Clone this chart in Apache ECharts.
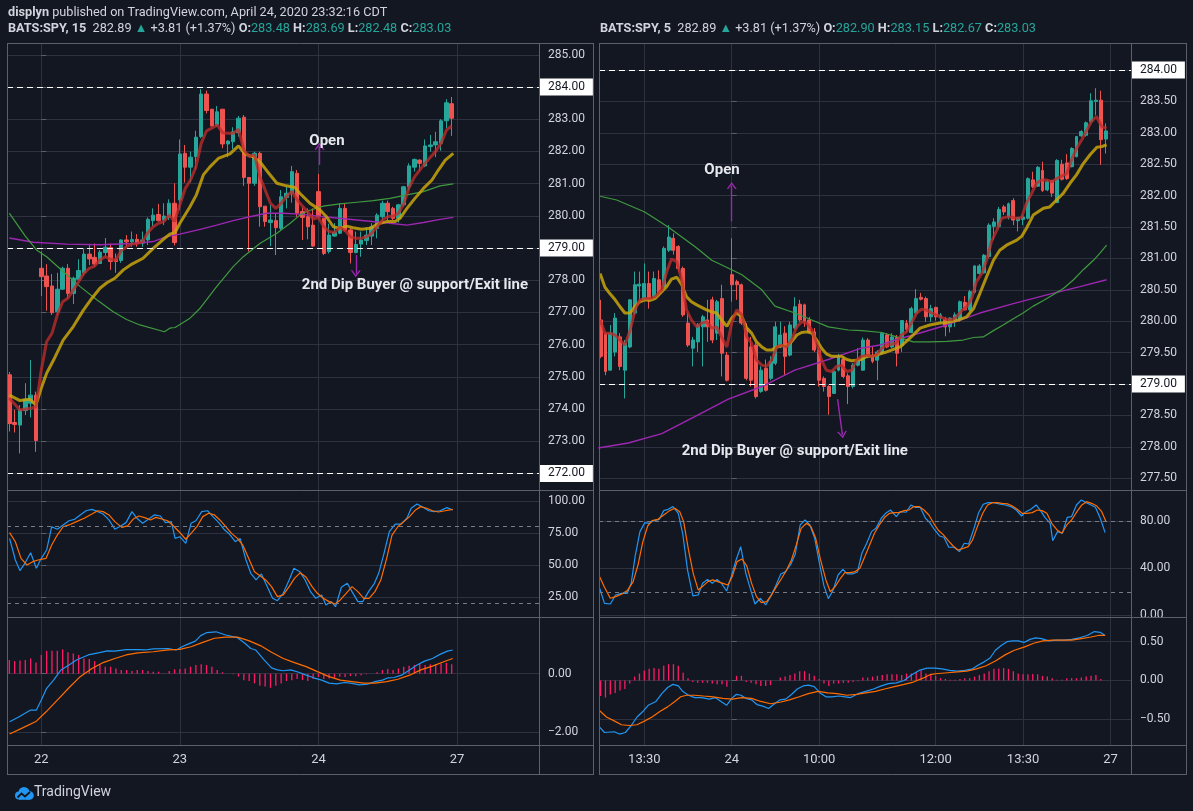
<!DOCTYPE html>
<html><head><meta charset="utf-8">
<script src="https://cdn.jsdelivr.net/npm/echarts@6/dist/echarts.min.js"></script>
<style>html,body{margin:0;padding:0;background:#131722;}#c{width:1193px;height:811px;}</style>
</head><body><div id="c"></div>
<script>
// ---------------- DATA ----------------
// Left chart: 15 min bars, index 0 = first bar of Apr 22
const L_FIRST = -6;
// [open, close, low, high]
const L_OHLC = [
[275.06,273.55,273.30,275.15],[273.58,273.52,273.27,273.97],[273.50,273.97,272.62,274.12],[273.95,274.30,273.81,274.80],
[274.18,274.43,273.74,275.52],[274.43,273.02,272.67,274.54],
[278.37,278.11,277.51,278.89],[278.13,277.80,277.05,278.50],[277.82,276.99,276.92,278.19],[277.02,277.72,276.92,278.23],
[277.72,278.37,277.70,278.42],[278.37,277.59,277.44,278.50],[277.59,278.06,277.26,278.11],[278.03,278.30,278.01,278.65],
[278.23,278.81,278.16,278.99],[278.81,278.66,278.47,279.09],[278.71,278.50,278.42,279.14],[278.52,278.87,278.50,278.94],
[278.86,279.02,278.73,279.31],[279.01,278.58,278.32,279.14],[278.65,278.58,278.23,278.83],[278.61,279.25,278.54,279.27],
[279.25,279.19,279.04,279.40],[279.19,279.26,279.04,279.51],[279.27,279.15,279.04,279.43],[279.15,279.25,279.04,279.51],
[279.25,279.89,279.09,279.95],[279.85,280.02,279.68,280.23],[280.04,279.85,279.82,280.37],[279.87,279.99,279.71,280.39],
[279.95,280.39,279.87,280.51],[280.39,279.17,279.08,281.01],
[280.49,281.92,280.18,282.37],[281.94,281.51,281.03,282.20],[281.51,281.82,281.03,281.99],[281.84,282.44,281.44,282.64],
[282.46,283.78,282.41,283.93],[283.78,283.27,283.18,283.89],[283.31,282.79,282.77,283.31],[282.82,283.23,282.77,283.41],
[283.31,282.23,282.10,283.31],[282.23,282.32,281.82,282.35],[282.30,282.61,282.07,282.75],[282.58,283.03,282.46,283.10],
[283.06,281.19,280.93,283.13],[281.19,281.01,278.89,281.19],[281.01,281.94,280.93,281.99],[281.94,280.28,279.66,281.99],
[280.30,279.82,279.66,280.30],[279.79,279.87,279.06,280.34],[279.85,279.63,278.78,280.08],[279.61,280.59,279.56,280.80],
[280.57,280.70,280.23,280.90],[280.70,281.37,280.41,281.55],[281.32,280.08,279.97,281.42],[280.13,279.95,279.25,280.26],
[279.97,279.66,279.27,280.23],[279.71,279.06,279.04,280.23],
[280.75,279.97,279.95,281.30],[279.92,278.83,278.78,279.92],[278.89,279.40,278.83,279.75],[279.37,279.48,279.35,279.77],
[279.46,280.23,279.43,280.39],[280.23,279.56,279.51,280.37],[279.56,278.86,278.52,279.61],[278.86,279.11,278.83,279.51],
[279.12,279.25,278.73,279.51],[279.23,279.40,279.09,279.64],[279.37,279.66,279.09,279.77],[279.61,280.02,279.30,280.08],
[279.97,280.39,279.82,280.47],[280.39,280.13,279.87,280.47],[280.23,279.92,279.87,280.28],[279.92,280.34,279.79,280.37],
[280.34,280.90,280.28,280.93],[280.90,281.55,280.80,281.63],[281.51,281.75,281.37,281.78],[281.73,281.63,281.40,281.75],
[281.55,282.17,281.51,282.37],[282.15,282.20,281.99,282.51],[282.20,282.30,281.82,282.61],[282.25,282.95,282.02,283.00],
[282.95,283.51,282.72,283.62],[283.48,283.03,282.48,283.69]
];
// moving averages [barIndex, price]
const L_MA_FAST = [[-6,274.33],[-4,273.97],[-2,274.02],[-1,274.07],[0,275.21],[1,276.09],[2,276.35],[3,276.92],[4,277.33],[5,277.44],[6,277.70],[7,277.95],[8,278.21],[9,278.37],[10,278.44],[11,278.63],[12,278.73],[13,278.65],[14,278.63],[15,278.92],[16,279.04],[17,279.12],[18,279.14],[19,279.20],[20,279.48],[21,279.66],[22,279.77],[23,279.82],[24,280.02],[25,279.82],[26,280.34],[27,280.85],[28,281.11],[29,281.51],[30,282.25],[31,282.64],[32,282.72],[33,282.82],[34,282.58],[35,282.56],[36,282.56],[37,282.69],[38,282.04],[39,281.84],[40,281.89],[41,281.22],[42,280.80],[43,280.39],[44,280.23],[45,280.39],[46,280.60],[47,280.75],[48,280.50],[49,280.30],[50,280.12],[51,279.90],[52,279.95],[53,279.66],[54,279.51],[55,279.48],[56,279.64],[57,279.54],[58,279.35],[59,279.30],[60,279.30],[61,279.35],[62,279.46],[63,279.66],[64,279.87],[65,279.97],[66,279.99],[67,280.08],[68,280.37],[69,280.88],[70,281.20],[71,281.42],[72,281.63],[73,281.82],[74,282.00],[75,282.25],[76,282.66],[77,282.79]];
const L_MA_MID = [[-6,274.43],[-4,274.26],[-2.1,274.30],[-1,274.12],[0,274.65],[1,275.11],[2.3,275.52],[4.1,276.14],[6,276.56],[7.9,277.07],[9.5,277.44],[11,277.75],[12.3,277.92],[13.8,278.06],[15.4,278.32],[17,278.50],[19.1,278.68],[21,278.99],[22.9,279.27],[24.1,279.43],[25.1,279.48],[26,279.77],[27.9,280.28],[29.1,280.65],[30.4,281.27],[31.6,281.51],[33.2,281.78],[35.4,281.92],[37,282.17],[38.2,281.92],[39.8,281.82],[41,281.68],[42.3,281.40],[44.2,281.01],[46,280.93],[47.6,280.88],[48.5,280.70],[50.4,280.39],[52.3,280.18],[53.5,279.97],[54.8,279.66],[56,279.61],[57.3,279.68],[58.5,279.63],[60.1,279.58],[61.7,279.61],[63.2,279.75],[64.8,279.82],[66.4,279.82],[67.3,279.92],[68.6,280.23],[70.1,280.54],[71.7,280.85],[73.3,281.11],[74.5,281.42],[75.8,281.73],[77.3,281.94]];
const L_MA_SLOW = [[-6,280.08],[-3,279.37],[-0.9,278.94],[1,278.73],[4.1,278.27],[7.3,277.80],[10.4,277.39],[13.5,277.02],[16,276.78],[18.5,276.61],[23.1,276.40],[24.1,276.51],[25.1,276.53],[27.9,276.82],[29.8,277.13],[32.9,277.80],[36,278.42],[37.9,278.73],[41,279.14],[44.2,279.46],[46.7,279.77],[48.5,280.02],[50,280.15],[52.9,280.30],[56,280.37],[59.2,280.42],[62.3,280.47],[65.4,280.54],[68.6,280.65],[71.7,280.75],[74.8,280.93],[77.3,280.99]];
const L_MA_LONG = [[-6,279.31],[-1.5,279.18],[4.8,279.12],[11,279.10],[17.3,279.14],[21,279.20],[23.5,279.35],[26,279.43],[29.8,279.58],[32.9,279.71],[36,279.85],[39.1,279.97],[42.3,280.08],[45.4,280.08],[48.5,280.05],[52.9,279.97],[59.2,279.87],[65.4,279.77],[68.6,279.71],[71.7,279.79],[74.8,279.89],[77.3,279.95]];
const L_STOCH_K = [[-5.95,70.8],[-4.87,53.9],[-4.01,45.6],[-3.08,51.3],[-2,59.6],[-0.93,47.4],[0,55.2],[1,61.7],[1.95,79.9],[3,77.9],[4.1,81.3],[5.2,84.6],[6.25,85.7],[7.3,89.1],[8.4,92.4],[9.5,93.5],[10.6,91.7],[11.6,89.8],[12.7,85.2],[13.8,77.9],[14.9,80.5],[15.9,83.1],[17,91.7],[17.95,86.5],[19,82.6],[20.1,85.7],[21.2,89.1],[22.3,88.3],[23.3,83.1],[24.4,83.9],[25.1,70.8],[26,72.1],[27.1,66.9],[28.1,82.6],[29,84.6],[30.1,91.7],[31.2,92.4],[32.2,87.8],[33.3,83.1],[34.4,77.3],[35.3,74.2],[36.4,68.2],[37.3,70.8],[38.4,53.9],[39.3,43.5],[40.3,38.3],[41.3,43.0],[42.4,33.1],[43.4,24.0],[44.3,22.1],[45.4,27.9],[46.5,38.3],[47.4,47.4],[48.5,44.8],[49.5,38.3],[50.5,29.2],[51.5,24.0],[52.6,26.6],[53.4,18.8],[54.4,21.4],[55.2,17.4],[56.3,32.6],[57.4,35.7],[58.3,29.2],[59.4,21.4],[60.3,21.4],[61.4,29.2],[62.5,35.7],[63.3,43.5],[64.3,59.1],[65.3,76.0],[66.4,82.0],[67.5,82.0],[68.6,86.5],[69.4,94.3],[70.5,97.7],[71.6,95.1],[72.7,92.4],[73.7,91.7],[74.8,92.4],[76.1,94.8],[77.2,93.0]];
const L_STOCH_D = [[-5.95,75.3],[-4.87,68.2],[-3.8,55.2],[-2.7,50.0],[-1.6,52.6],[-0.6,53.9],[0.9,55.2],[1.95,65.6],[3,73.4],[4.1,79.9],[5.2,81.3],[6.6,83.9],[8.05,86.5],[9.5,89.8],[10.6,92.4],[11.6,91.7],[12.7,89.1],[13.8,83.9],[15.1,79.4],[16.2,80.5],[17.2,85.7],[18.3,88.3],[19.4,87.0],[20.5,85.2],[21.5,87.2],[22.6,85.9],[23.7,84.6],[24.8,80.5],[25.85,76.0],[27.1,70.1],[28.1,74.7],[29.2,79.9],[30.3,87.8],[31.4,90.4],[32.5,89.1],[33.5,85.2],[34.6,79.9],[35.7,74.7],[36.8,70.8],[37.8,65.6],[38.9,55.2],[40,44.8],[41.1,41.4],[42.1,38.3],[43.2,33.1],[44.3,25.3],[45.4,26.6],[46.5,33.1],[47.5,39.6],[48.6,44.0],[49.7,40.4],[50.8,33.1],[51.8,27.9],[52.9,24.0],[54,21.4],[55.1,19.5],[56.1,22.7],[57.2,27.9],[58.3,33.1],[59.4,29.2],[60.5,24.0],[61.5,24.0],[62.6,29.2],[63.7,38.3],[64.8,55.2],[65.8,73.4],[66.9,79.9],[68,83.9],[69.1,87.8],[70.2,93.0],[71.2,95.6],[72.3,94.3],[73.4,92.4],[74.5,91.4],[75.5,92.2],[77.2,93.5]];
const L_MACD = [[-5.95,-1.64],[-4.15,-1.47],[-2,-1.24],[-0.92,-1.24],[0,-0.90],[1,-0.50],[2.3,-0.22],[3.7,0.13],[5.2,0.30],[6.6,0.47],[8.8,0.64],[10.9,0.72],[12.4,0.78],[13.8,0.77],[15.9,0.82],[18.1,0.82],[19.5,0.81],[21,0.85],[23.8,0.86],[25.3,0.81],[26.4,0.92],[27.4,1.00],[28.9,1.11],[29.9,1.30],[31,1.40],[32.8,1.43],[34.6,1.32],[36.8,1.23],[38.2,1.04],[39.3,0.86],[40.2,0.81],[41.8,0.47],[43.2,0.20],[44.3,0.13],[45.4,0.10],[46.8,0.13],[48.3,0.05],[49.7,-0.05],[51.1,-0.14],[52.6,-0.22],[54,-0.32],[55.4,-0.35],[56.9,-0.30],[58.3,-0.33],[59.7,-0.38],[61.2,-0.36],[62.6,-0.27],[64,-0.22],[65.1,-0.14],[66.2,-0.13],[67.6,-0.05],[69.1,0.13],[70.5,0.30],[71.9,0.43],[73.4,0.52],[74.8,0.66],[76.2,0.77],[77.2,0.81]];
const L_SIGNAL = [[-5.95,-2.06],[-3.4,-1.84],[-0.92,-1.62],[0.9,-1.30],[3,-0.90],[5.2,-0.48],[7.3,-0.10],[9.5,0.18],[11.6,0.38],[13.8,0.52],[15.9,0.64],[18.1,0.71],[21,0.75],[23.8,0.81],[26,0.83],[28.1,0.92],[30.3,1.07],[32.5,1.21],[34.6,1.25],[36.8,1.25],[38.9,1.13],[41.1,0.96],[43.2,0.73],[45.4,0.52],[47.5,0.38],[49.7,0.24],[51.8,0.07],[54,-0.10],[56.1,-0.22],[58.3,-0.27],[60.5,-0.32],[62.6,-0.32],[64.8,-0.27],[66.9,-0.19],[69.1,-0.05],[71.2,0.13],[73.4,0.26],[75.5,0.41],[77.2,0.52]];
const L_HIST = [0.47,0.43,0.45,0.47,0.52,0.38,0.64,0.78,0.78,0.78,0.83,0.73,0.69,0.64,0.52,0.50,0.43,0.32,0.24,0.24,0.18,0.13,0.13,0.09,0.13,0.13,0.09,0.07,0.07,0.01,0.09,0.15,0.16,0.18,0.24,0.30,0.32,0.30,0.24,0.13,0.05,0.00,-0.02,-0.10,-0.22,-0.25,-0.33,-0.41,-0.44,-0.48,-0.41,-0.33,-0.25,-0.22,-0.18,-0.22,-0.25,-0.18,-0.11,-0.18,-0.16,-0.14,-0.10,-0.11,-0.08,-0.09,-0.05,-0.02,0.00,0.05,0.13,0.16,0.13,0.18,0.24,0.27,0.30,0.33,0.30,0.32,0.33,0.35,0.37,0.32];
const L_TIME_TICKS = [0, 26, 52, 78];
const L_TIME_LABELS = ['22', '23', '24', '27'];
const L_PRICE_TICKS = [272,273,274,275,276,277,278,279,280,281,282,283,284,285];
const L_STOCH_TICKS = [25, 50, 75, 100];
const L_MACD_TICKS = [-2, 0];
const L_LEVELS = [284, 279, 272];
const L_LAST = 283.03;

// Right chart: 5 min bars, index 0 = first bar of Apr 24
const R_FIRST = -27;
const R_OHLC = [
[280.02,279.44,279.41,280.34],[279.81,279.20,279.14,279.81],[279.22,279.81,279.22,279.94],[279.51,280.05,279.44,280.13],
[279.75,279.28,279.22,279.81],[279.22,279.65,278.77,279.70],[279.59,280.34,279.57,280.35],[280.13,280.58,280.10,280.79],
[280.56,280.59,280.34,280.79],[280.34,280.60,280.34,280.92],[280.60,280.34,280.20,280.79],[280.39,280.68,280.36,280.79],
[280.66,280.44,280.42,280.81],[280.55,281.16,280.52,281.19],[281.13,281.34,281.10,281.53],[281.32,281.13,281.06,281.40],
[281.19,280.84,280.79,281.21],[280.84,280.10,280.07,280.87],[279.97,279.62,279.59,280.13],[279.57,279.70,279.28,279.75],
[279.67,279.94,279.51,279.97],[279.91,280.07,279.28,280.10],[280.02,279.91,279.67,280.34],[280.34,279.70,279.65,280.39],
[279.81,280.31,279.70,280.34],[280.36,279.49,279.12,280.58],[279.46,279.06,279.04,279.51],
[280.74,280.58,280.31,281.32],[280.63,280.58,280.34,280.66],[280.58,279.97,279.94,280.60],[279.89,279.09,279.06,279.97],
[279.59,279.06,278.96,279.75],[279.62,278.80,278.77,279.65],[278.88,279.22,278.86,279.28],[279.25,278.90,278.88,279.39],
[279.09,279.36,279.06,279.44],[279.33,279.91,279.30,279.99],[279.59,279.78,279.57,279.99],[279.81,279.44,279.14,279.92],
[279.46,279.94,279.44,279.99],[279.89,280.23,279.86,280.38],[280.27,280.02,279.99,280.34],[280.26,279.99,279.91,280.28],
[280.02,279.83,279.81,280.07],[279.83,279.54,279.51,279.89],[279.54,279.06,278.96,279.59],[279.09,278.96,278.88,279.12],
[278.96,278.80,278.51,278.98],[278.85,279.20,278.84,279.22],[279.22,279.44,279.20,279.48],[279.39,279.12,279.09,279.44],
[279.13,278.96,278.68,279.17],[278.96,279.30,278.93,279.33],[279.30,279.38,279.28,279.57],[279.22,279.70,279.21,279.74],
[279.70,279.44,279.41,279.73],[279.44,279.36,279.33,279.59],[279.38,279.51,279.06,279.54],[279.49,279.81,279.46,279.83],
[279.78,279.59,279.57,279.81],[279.59,279.75,279.57,279.81],[279.74,279.49,279.28,279.78],[279.61,280.01,279.51,280.02],
[279.97,279.87,279.83,280.02],[279.82,280.20,279.81,280.23],[280.13,280.36,280.10,280.51],[280.38,280.35,280.33,280.45],
[280.36,280.07,279.99,280.39],[280.07,280.20,279.99,280.26],[280.22,280.07,280.01,280.23],[280.05,280.10,279.97,280.13],
[280.03,279.91,279.76,280.07],[279.91,280.05,279.82,280.06],[280.02,280.10,279.91,280.14],[280.02,280.31,279.99,280.33],
[280.30,280.18,280.17,280.40],[280.18,280.47,280.15,280.50],[280.46,280.88,280.44,280.89],[280.76,280.88,280.74,280.91],
[280.77,281.05,280.76,281.07],[281.03,281.53,281.00,281.56],[281.51,281.58,281.29,281.64],[281.51,281.78,281.48,281.82],
[281.82,281.74,281.69,281.85],[281.66,281.87,281.62,281.89],[281.92,281.61,281.53,281.96],[281.60,281.65,281.43,281.66],
[281.62,281.66,281.53,281.69],[281.64,282.27,281.62,282.29],[282.25,282.14,282.12,282.38],[282.15,282.45,282.14,282.47],
[282.40,282.08,282.06,282.54],[282.09,282.22,282.07,282.25],[282.24,282.04,281.98,282.25],[281.89,282.56,281.88,282.58],
[282.50,282.26,282.24,282.57],[282.52,282.27,282.25,282.66],[282.46,282.75,282.45,282.77],[282.62,282.94,282.61,282.95],
[282.95,283.02,282.94,283.04],[282.96,283.16,282.94,283.18],[283.18,283.51,283.15,283.63],[283.50,283.52,283.28,283.71],
[283.52,282.89,282.49,283.67],[282.90,283.03,282.67,283.15]
];
const R_MA_FAST = [[-27.1,280.02],[-26.1,279.81],[-25.1,279.81],[-24,279.78],[-23,279.70],[-22,279.62],[-20.9,279.86],[-19.9,280.18],[-18.9,280.34],[-17.9,280.36],[-16.8,280.36],[-15.8,280.39],[-14.4,280.50],[-13.4,280.79],[-12.4,280.99],[-11.3,280.95],[-10.3,280.66],[-9.3,280.18],[-8.3,280.02],[-7.2,279.91],[-6.2,279.97],[-5.2,279.99],[-4.1,279.89],[-3.1,279.91],[-2.1,279.75],[-1,279.59],[0,279.97],[1,280.18],[2.1,280.10],[3.1,279.75],[4.1,279.65],[5.1,279.38],[6.2,279.30],[7.2,279.28],[8.2,279.38],[9.3,279.59],[10.3,279.62],[11.3,279.59],[12.3,279.70],[13.4,279.91],[14.4,279.99],[15.4,279.97],[16.5,279.86],[17.5,279.65],[18.5,279.38],[19.5,279.22],[20.6,279.20],[21.6,279.28],[22.6,279.30],[23.7,279.20],[24.7,279.22],[25.7,279.38],[26.7,279.44],[27.8,279.46],[28.8,279.44],[29.8,279.46],[30.9,279.57],[31.9,279.62],[33.9,279.65],[34.9,279.78],[36,279.83],[37,279.97],[38.1,280.13],[39.1,280.19],[40.1,280.18],[41.2,280.13],[42.2,280.10],[43.2,280.06],[44.3,280.03],[45.3,280.02],[46.3,280.07],[47.4,280.17],[48.4,280.23],[49.4,280.36],[50.4,280.63],[51.5,280.76],[52.5,280.97],[53.5,281.27],[54.6,281.45],[55.6,281.64],[56.6,281.66],[57.6,281.66],[58.7,281.64],[59.7,281.65],[60.7,281.88],[61.8,282.04],[62.8,282.20],[63.8,282.25],[64.8,282.25],[65.9,282.22],[66.9,282.27],[67.9,282.31],[69,282.35],[70,282.57],[71,282.75],[72.1,282.89],[73.1,283.04],[74.1,283.18],[75.1,283.26],[76.2,283.10],[77.2,283.07]];
const R_MA_MID = [[-27.1,280.76],[-26.1,280.54],[-25.1,280.44],[-24,280.34],[-23,280.23],[-22,280.13],[-20.9,280.13],[-19.9,280.24],[-18.9,280.31],[-17.9,280.34],[-16.8,280.33],[-15.8,280.36],[-14.4,280.47],[-13.4,280.55],[-12.4,280.67],[-11.3,280.70],[-10.3,280.58],[-9.3,280.39],[-8.3,280.31],[-7.2,280.26],[-6.2,280.22],[-5.2,280.18],[-4.1,280.15],[-3.1,280.13],[-2.1,280.02],[-1,279.92],[0,280.05],[1,280.13],[2.1,280.07],[3.1,279.89],[4.1,279.81],[5.1,279.67],[6.2,279.59],[7.2,279.54],[8.2,279.54],[9.3,279.59],[10.3,279.61],[11.3,279.61],[12.3,279.67],[13.4,279.78],[14.4,279.82],[15.4,279.83],[16.5,279.81],[17.5,279.70],[18.5,279.57],[19.5,279.48],[20.6,279.44],[21.6,279.44],[22.6,279.44],[23.7,279.39],[24.7,279.37],[25.7,279.38],[26.7,279.39],[27.8,279.44],[28.8,279.44],[29.8,279.46],[30.9,279.49],[31.9,279.51],[32.9,279.54],[34.7,279.59],[36.7,279.73],[38.8,279.89],[40.8,279.94],[42.9,279.97],[44.3,279.98],[46.3,280.01],[48.4,280.07],[49.8,280.20],[51.1,280.44],[52.5,280.71],[53.9,280.97],[55.2,281.13],[56.6,281.21],[58.7,281.29],[59.7,281.35],[60.7,281.48],[62.1,281.69],[64.2,281.80],[65.5,281.82],[66.9,281.93],[68.3,282.04],[69.7,282.20],[71,282.33],[72.4,282.51],[73.8,282.65],[75.2,282.77],[76.2,282.78],[77.2,282.81]];
const R_MA_SLOW = [[-27.1,281.99],[-23.7,281.93],[-17.9,281.74],[-13.1,281.50],[-7.6,281.19],[-4.1,280.97],[0,280.82],[2.1,280.74],[6.2,280.50],[8.9,280.24],[13,280.13],[16.5,280.02],[19.9,279.91],[24,279.86],[26.8,279.85],[30.9,279.82],[34,279.75],[37.4,279.67],[40.8,279.67],[44.3,279.68],[47.7,279.70],[49.8,279.74],[51.8,279.75],[53.9,279.85],[55.9,279.94],[58,280.04],[60,280.13],[62.1,280.24],[64.2,280.33],[66.2,280.42],[68.3,280.52],[70.4,280.66],[72.4,280.82],[74.5,280.97],[75.8,281.08],[77.2,281.21]];
const R_MA_LONG = [[-27.5,277.98],[-21.3,278.06],[-14.4,278.21],[-7.6,278.48],[-0.7,278.76],[6.2,278.96],[13,279.22],[19.9,279.39],[26.7,279.57],[30.5,279.62],[33.6,279.70],[37.4,279.78],[44.3,279.94],[51.1,280.13],[58,280.28],[64.9,280.42],[71.7,280.55],[77.2,280.66]];
const R_STOCH_K = [[-27.2,23.0],[-26.2,10.2],[-25,9.6],[-23.9,17.3],[-22.7,18.7],[-21.5,18.7],[-20.7,27.2],[-19.9,49.9],[-18.9,71.2],[-17.9,78.9],[-17,78.3],[-16,80.6],[-14.9,81.7],[-14,89.1],[-13.1,90.2],[-12.1,92.5],[-11,86.8],[-10.1,69.8],[-9.1,38.6],[-8,16.5],[-6.9,17.3],[-6,27.2],[-5,30.6],[-4,27.2],[-3,30.6],[-2.1,27.2],[-1.05,20.7],[-0.1,32.9],[0.9,47.1],[1.85,58.4],[2.9,35.7],[3.9,21.6],[4.8,9.6],[5.9,14.5],[7,8.8],[8,15.9],[9,24.4],[10.1,35.2],[11.1,37.2],[12.1,42.8],[13.1,52.2],[14.1,76.9],[15.1,81.1],[16.1,76.9],[17.1,65.5],[18,45.7],[19,25.0],[19.9,14.2],[20.9,21.6],[21.9,34.3],[22.9,39.1],[23.8,35.2],[24.9,35.2],[25.9,36.9],[26.8,52.8],[27.8,61.3],[28.8,71.2],[29.7,74.0],[30.8,82.6],[31.7,86.8],[32.7,89.6],[33.9,84.0],[34.7,88.2],[35.9,87.7],[36.9,93.9],[37.8,91.9],[38.8,91.9],[39.9,82.6],[40.8,78.9],[41.8,72.6],[42.8,67.5],[43.7,66.4],[44.7,57.9],[45.8,57.9],[46.9,54.2],[47.9,61.3],[48.8,60.7],[49.9,74.0],[50.8,86.8],[51.8,94.5],[52.8,95.9],[53.9,95.9],[55.1,94.8],[56.3,93.9],[57.5,92.5],[58.6,89.6],[59.7,84.5],[60.6,88.2],[61.6,90.2],[62.7,93.9],[63.6,89.1],[64.5,83.4],[65.6,78.3],[66.1,63.5],[67.1,71.2],[68.1,69.8],[69.1,83.4],[70,84.0],[71,93.9],[72,98.2],[73,95.9],[74,93.9],[74.9,91.9],[75.9,82.6],[76.9,70.4]];
const R_STOCH_D = [[-27.2,32.9],[-26.2,23.8],[-25,14.5],[-23.9,15.9],[-22.7,17.9],[-21.5,21.0],[-20.3,28.7],[-19.3,42.8],[-18.3,62.7],[-17.3,76.0],[-16.4,80.6],[-15.2,81.7],[-14,85.4],[-12.8,89.1],[-11.7,91.1],[-10.7,88.2],[-9.9,79.7],[-8.9,55.6],[-7.9,35.2],[-6.9,21.6],[-5.9,25.0],[-4.9,28.7],[-3.9,30.1],[-2.9,28.7],[-1.8,27.2],[-0.8,25.8],[0.1,32.9],[1.1,45.7],[2.1,47.9],[3.1,42.0],[4.1,27.2],[5.1,15.9],[6.1,10.8],[7.2,11.6],[8.2,17.3],[9.2,24.4],[10.3,31.5],[11.3,38.6],[12.3,47.1],[13.3,59.9],[14.3,74.0],[15.4,78.3],[16.3,75.5],[17.3,65.5],[18.3,47.1],[19.4,30.1],[20.3,20.1],[21.3,24.4],[22.4,31.5],[23.3,36.3],[24.3,36.3],[25.3,36.9],[26.4,40.0],[27.4,49.9],[28.4,59.9],[29.4,69.8],[30.4,76.9],[31.5,83.4],[32.5,86.8],[33.5,87.4],[34.5,87.4],[35.5,89.1],[36.5,89.6],[37.5,92.5],[38.6,92.5],[39.6,89.6],[40.6,85.4],[41.6,78.3],[42.5,72.6],[43.6,68.4],[44.6,63.5],[45.6,59.0],[46.6,55.6],[47.7,57.0],[48.7,58.4],[49.6,64.1],[50.6,75.5],[51.7,86.8],[52.7,93.9],[53.7,95.9],[54.7,95.9],[55.7,95.3],[56.8,94.8],[57.8,93.0],[58.8,90.2],[59.8,86.8],[60.8,86.8],[61.9,87.4],[62.9,89.6],[63.9,89.1],[64.9,86.8],[65.9,78.3],[67,72.6],[68,69.8],[69,76.9],[70,81.1],[71.1,88.2],[72.1,93.9],[73.1,96.7],[74.1,95.3],[75.2,93.0],[76.2,88.2],[77.1,79.7]];
const R_MACD = [[-27.2,-0.60],[-26.2,-0.67],[-24.2,-0.66],[-23.1,-0.69],[-21.9,-0.67],[-20.7,-0.58],[-19.5,-0.47],[-18.3,-0.40],[-17.2,-0.32],[-15.6,-0.27],[-14.4,-0.17],[-13.2,-0.09],[-12.1,-0.05],[-11,-0.07],[-10.1,-0.14],[-8.9,-0.19],[-7.6,-0.22],[-6.2,-0.22],[-4.6,-0.24],[-3.4,-0.22],[-2.2,-0.27],[-1.05,-0.32],[0,-0.23],[0.9,-0.18],[1.9,-0.19],[2.9,-0.23],[4.1,-0.25],[5.2,-0.31],[6.4,-0.33],[7.6,-0.36],[8.8,-0.30],[9.9,-0.25],[11.1,-0.24],[12.3,-0.18],[13.5,-0.11],[14.7,-0.07],[15.8,-0.06],[17,-0.08],[18.2,-0.16],[19.4,-0.21],[20.6,-0.21],[22.1,-0.20],[23.3,-0.21],[24.5,-0.22],[26,-0.17],[27.6,-0.14],[29.2,-0.11],[30.8,-0.07],[32.3,-0.04],[33.9,-0.03],[35.5,0.00],[37,0.07],[38.6,0.13],[40.2,0.16],[41.8,0.16],[43.3,0.15],[44.9,0.13],[46.5,0.12],[48,0.13],[49.6,0.15],[50.8,0.20],[52,0.24],[53.2,0.29],[54.3,0.39],[55.5,0.45],[56.7,0.50],[57.9,0.51],[59,0.51],[60.2,0.49],[61.4,0.53],[62.6,0.55],[63.8,0.54],[65.3,0.51],[66.9,0.52],[68.5,0.52],[70,0.53],[71.6,0.55],[73.2,0.58],[74.7,0.63],[75.9,0.62],[76.9,0.58]];
const R_SIGNAL = [[-27.2,-0.39],[-25.8,-0.47],[-24.2,-0.52],[-22.7,-0.57],[-21.1,-0.58],[-19.5,-0.57],[-17.9,-0.52],[-16.4,-0.47],[-14.8,-0.40],[-13.2,-0.34],[-11.7,-0.27],[-10.5,-0.21],[-9.3,-0.19],[-7.7,-0.19],[-5.8,-0.20],[-3.8,-0.21],[-1.8,-0.23],[0.1,-0.24],[2.1,-0.22],[4.1,-0.23],[6,-0.27],[8,-0.30],[9.9,-0.28],[11.9,-0.25],[13.9,-0.21],[15.8,-0.17],[17.8,-0.14],[19.8,-0.16],[21.7,-0.17],[23.7,-0.19],[25.7,-0.18],[27.6,-0.16],[29.6,-0.14],[31.5,-0.11],[33.5,-0.08],[35.5,-0.05],[37.4,-0.02],[39.4,0.03],[41,0.08],[42.5,0.09],[44.5,0.10],[46.5,0.11],[48.4,0.12],[50.4,0.15],[52.4,0.19],[54.3,0.25],[56.3,0.33],[58.2,0.39],[60.2,0.43],[62.2,0.48],[64.1,0.51],[66.1,0.52],[68.1,0.52],[70,0.52],[72,0.54],[74,0.56],[75.5,0.58],[76.9,0.58]];
const R_HIST = [-0.20,-0.22,-0.18,-0.16,-0.13,-0.11,-0.04,0.05,0.09,0.13,0.15,0.16,0.15,0.19,0.21,0.21,0.19,0.10,0.03,-0.02,-0.03,-0.03,-0.03,-0.04,-0.05,-0.05,-0.08,0.00,0.06,0.06,-0.02,-0.03,-0.05,-0.07,-0.07,-0.06,0.00,0.04,0.05,0.07,0.09,0.12,0.12,0.09,0.06,0.02,-0.04,-0.07,-0.04,-0.04,-0.03,-0.03,-0.02,-0.01,0.04,0.04,0.05,0.06,0.07,0.08,0.08,0.08,0.07,0.09,0.09,0.11,0.13,0.09,0.08,0.06,0.03,0.02,0.01,0.01,0.02,0.03,0.03,0.05,0.07,0.09,0.12,0.15,0.155,0.16,0.15,0.12,0.09,0.08,0.08,0.085,0.08,0.06,0.05,0.03,0.01,0.01,0.03,0.03,0.03,0.04,0.05,0.06,0.07,0.02,0.00];
const R_TIME_TICKS = [-18, 0, 18, 42, 60, 78];
const R_TIME_LABELS = ['13:30', '24', '10:00', '12:00', '13:30', '27'];
const R_PRICE_TICKS = [277.5,278,278.5,279,279.5,280,280.5,281,281.5,282,282.5,283,283.5,284];
const R_STOCH_TICKS = [0, 40, 80];
const R_MACD_TICKS = [-0.5, 0, 0.5];
const R_LEVELS = [284, 279];
const R_LAST = 283.03;
const STOCH_BANDS = [80, 20];

// annotations: [barIndex, price]
const L_NOTES = [{text:'Open', at:[53.6, 282.32]}, {text:'2nd Dip Buyer @ support/Exit line', at:[70.1, 277.85]}];
const L_ARROWS = [[[52.2, 281.58],[52.2, 282.16]], [[59.0, 278.78],[59.0, 278.20]]];
const R_NOTES = [{text:'Open', at:[-2.0, 282.41]}, {text:'2nd Dip Buyer @ support/Exit line', at:[13.0, 277.93]}];
const R_ARROWS = [[[0, 281.59],[0, 282.16]], [[21.8, 278.76],[22.8, 278.19]]];

// ---------------- STYLE ----------------
const FONT = 'Roboto, "Noto Sans", sans-serif';
const BG = '#131722', GRIDC = '#2e3240', FRAME = '#5d606b', TXT = '#d1d4dc';
const UP = '#26a69a', DN = '#ef5350';
const C_FAST = 'rgba(190,45,42,0.78)', C_MID = 'rgba(200,164,12,0.85)', C_SLOW = '#3f9a3f', C_LONG = '#9c27b0';
const C_BLUE = '#2196f3', C_ORANGE = '#ff6d00', C_HIST = '#ff1a66', C_ARROW = '#9c27b0';

const fmtNum = v => (v < 0 ? '\u2212' + Math.abs(v).toFixed(2) : v.toFixed(2));

const grids = [
  {left: 7, top: 43, width: 532, height: 447},
  {left: 7, top: 491, width: 532, height: 126},
  {left: 7, top: 618, width: 532, height: 127},
  {left: 599, top: 43, width: 532, height: 447},
  {left: 599, top: 491, width: 532, height: 126},
  {left: 599, top: 618, width: 532, height: 127}
];

function xAx(g, min, max, ticks, labels, show) {
  return {type: 'value', gridIndex: g, min: min, max: max,
    axisLine: {show: false},
    axisTick: {show: false, customValues: ticks},
    axisLabel: {show: show, customValues: ticks, color: TXT, fontSize: 13, fontFamily: FONT, margin: 8,
      formatter: v => { const k = ticks.indexOf(v); return k < 0 ? '' : labels[k]; }},
    splitLine: {show: true, lineStyle: {color: GRIDC, width: 1}}};
}
function yAx(g, min, max, ticks) {
  return {type: 'value', gridIndex: g, position: 'right', min: min, max: max,
    axisLine: {show: false},
    axisTick: {show: true, customValues: ticks, length: 5, lineStyle: {color: FRAME}},
    axisLabel: {customValues: ticks, color: TXT, fontSize: 12, fontFamily: FONT, margin: 9, formatter: fmtNum},
    splitLine: {show: true, lineStyle: {color: GRIDC, width: 1}}};
}

const xAxis = [
  xAx(0, -6.435, 93.38, L_TIME_TICKS, L_TIME_LABELS, false),
  xAx(1, -6.435, 93.38, L_TIME_TICKS, L_TIME_LABELS, false),
  xAx(2, -6.435, 93.38, L_TIME_TICKS, L_TIME_LABELS, true),
  xAx(3, -27.33, 82.23, R_TIME_TICKS, R_TIME_LABELS, false),
  xAx(4, -27.33, 82.23, R_TIME_TICKS, R_TIME_LABELS, false),
  xAx(5, -27.33, 82.23, R_TIME_TICKS, R_TIME_LABELS, true)
];
const yAxis = [
  yAx(0, 271.484, 285.366, L_PRICE_TICKS),
  yAx(1, 9.375, 107.81, L_STOCH_TICKS),
  yAx(2, -2.433, 1.901, L_MACD_TICKS),
  yAx(3, 277.312, 284.43, R_PRICE_TICKS),
  yAx(4, -1.45, 105.79, R_STOCH_TICKS),
  yAx(5, -0.831, 0.805, R_MACD_TICKS)
];

const chevron = 'path://M0,9 L5,0 L10,9 L8.4,9 L5,2.9 L1.6,9 Z';
function levelLines(levels, last, lastColor) {
  const items = levels.map(v => ({yAxis: v,
    lineStyle: {color: '#ffffff', type: [6, 4], width: 1},
    label: {show: true, position: 'end', distance: 0, formatter: p => p.value.toFixed(2),
      backgroundColor: '#ffffff', color: '#131722', fontSize: 12, fontFamily: FONT, padding: [3, 8, 2, 9]}}));
  items.push({yAxis: last, lineStyle: {opacity: 0},
    label: {show: true, position: 'end', distance: 0, formatter: p => p.value.toFixed(2),
      backgroundColor: lastColor, color: '#ffffff', fontSize: 12, fontFamily: FONT, padding: [3, 8, 2, 9]}});
  return items;
}
function arrowLines(arrows) {
  return arrows.map(a => [
    {coord: a[0], symbol: 'none', lineStyle: {color: C_ARROW, type: 'solid', width: 1.4}, label: {show: false}},
    {coord: a[1], symbol: chevron, symbolSize: [10, 7]}
  ]);
}
function notePoints(notes) {
  return notes.map(n => ({name: n.text, coord: n.at}));
}

function candleSeries(xi, first, ohlc, levels, last, lastColor, notes, arrows, bw) {
  return {type: 'candlestick', xAxisIndex: xi, yAxisIndex: xi,
    barWidth: bw,
    data: ohlc.map((d, k) => [first + k, d[0], d[1], d[2], d[3]]),
    itemStyle: {color: UP, color0: DN, borderColor: UP, borderColor0: DN, borderWidth: 1},
    markLine: {silent: true, symbol: ['none', 'none'], animation: false,
      data: levelLines(levels, last, lastColor).concat(arrowLines(arrows))},
    markPoint: {silent: true, symbol: 'circle', symbolSize: 1, itemStyle: {color: 'rgba(0,0,0,0)'},
      label: {show: true, position: 'inside', formatter: p => p.name, color: '#e6e8ee', fontWeight: 'bold', fontSize: 15, fontFamily: FONT},
      data: notePoints(notes)},
    z: 3};
}
function lineS(xi, data, color, width, z) {
  return {type: 'line', xAxisIndex: xi, yAxisIndex: xi, data: data, showSymbol: false, symbol: 'none',
    lineStyle: {color: color, width: width}, itemStyle: {color: color}, z: z || 4, silent: true};
}
function bandLines() {
  return {silent: true, symbol: ['none', 'none'], label: {show: false},
    lineStyle: {color: '#787b86', type: [4, 4], width: 1},
    data: STOCH_BANDS.map(v => ({yAxis: v}))};
}

const series = [
  candleSeries(0, L_FIRST, L_OHLC, L_LEVELS, L_LAST, DN, L_NOTES, L_ARROWS, 4),
  lineS(0, L_MA_LONG, C_LONG, 1.4), lineS(0, L_MA_SLOW, C_SLOW, 1.2),
  lineS(0, L_MA_MID, C_MID, 3), lineS(0, L_MA_FAST, C_FAST, 3),
  Object.assign(lineS(1, L_STOCH_K, C_BLUE, 1.2), {markLine: bandLines()}),
  lineS(1, L_STOCH_D, C_ORANGE, 1.2),
  {type: 'bar', xAxisIndex: 2, yAxisIndex: 2, barWidth: 1.3, data: L_HIST.map((v, k) => [L_FIRST + k, v]),
    itemStyle: {color: C_HIST}, silent: true},
  lineS(2, L_MACD, C_BLUE, 1.2), lineS(2, L_SIGNAL, C_ORANGE, 1.2),

  candleSeries(3, R_FIRST, R_OHLC, R_LEVELS, R_LAST, UP, R_NOTES, R_ARROWS, 3.4),
  lineS(3, R_MA_LONG, C_LONG, 1.4), lineS(3, R_MA_SLOW, C_SLOW, 1.2),
  lineS(3, R_MA_MID, C_MID, 3), lineS(3, R_MA_FAST, C_FAST, 3),
  Object.assign(lineS(4, R_STOCH_K, C_BLUE, 1.2), {markLine: bandLines()}),
  lineS(4, R_STOCH_D, C_ORANGE, 1.2),
  {type: 'bar', xAxisIndex: 5, yAxisIndex: 5, barWidth: 1.3, data: R_HIST.map((v, k) => [R_FIRST + k, v]),
    itemStyle: {color: C_HIST}, silent: true},
  lineS(5, R_MACD, C_BLUE, 1.2), lineS(5, R_SIGNAL, C_ORANGE, 1.2)
];

// frame lines (panel borders)
const frame = [];
function hl(x1, x2, y) { frame.push({type: 'line', shape: {x1: x1, y1: y, x2: x2, y2: y}, style: {stroke: FRAME, lineWidth: 1}, z: 10}); }
function vl(x, y1, y2) { frame.push({type: 'line', shape: {x1: x, y1: y1, x2: x, y2: y2}, style: {stroke: FRAME, lineWidth: 1}, z: 10}); }
[[7, 593.5, 539.5], [599, 1186.5, 1131.5]].forEach(p => {
  [43.5, 490.5, 617.5, 745.5, 774.5].forEach(y => hl(p[0], p[1], y));
  vl(p[0] + 0.5, 43, 775); vl(p[1], 43, 775); vl(p[2], 43, 775);
});

const HF = 12.7;
const headRich = {
  b: {fontWeight: 'bold', color: TXT, fontSize: HF, fontFamily: FONT},
  g: {color: UP, fontSize: HF, fontFamily: FONT}
};
const headStyle = {color: TXT, fontSize: HF, fontWeight: 'normal', fontFamily: FONT, rich: headRich};
const option = {
  backgroundColor: BG,
  animation: false,
  title: [
    {left: 8, top: 6, padding: 0, text: '{b|displyn} published on TradingView.com, April 24, 2020 23:32:16 CDT', textStyle: headStyle},
    {left: 8, top: 22, padding: 0, text: '{b|BATS:SPY, 15}  282.89 {g|\u25B2} +3.81 (+1.37%) {b|O:}{g|283.48} {b|H:}{g|283.69} {b|L:}{g|282.48} {b|C:}{g|283.03}', textStyle: headStyle},
    {left: 600, top: 22, padding: 0, text: '{b|BATS:SPY, 5}  282.89 {g|\u25B2} +3.81 (+1.37%) {b|O:}{g|282.90} {b|H:}{g|283.15} {b|L:}{g|282.67} {b|C:}{g|283.03}', textStyle: headStyle}
  ],
  grid: grids,
  xAxis: xAxis,
  yAxis: yAxis,
  series: series,
  graphic: frame.concat([
    {type: 'group', x: 14, y: 785, children: [
      {type: 'circle', shape: {cx: 5, cy: 10.5, r: 4}, style: {fill: '#2196f3'}},
      {type: 'circle', shape: {cx: 10, cy: 7.5, r: 5.5}, style: {fill: '#2196f3'}},
      {type: 'circle', shape: {cx: 15.5, cy: 10.5, r: 4.3}, style: {fill: '#2196f3'}},
      {type: 'rect', shape: {x: 5, y: 9, width: 10.5, height: 5.8}, style: {fill: '#2196f3'}},
      {type: 'polyline', shape: {points: [[3.5, 12.5], [7.5, 8.5], [11, 11.5], [16, 7]]}, style: {stroke: '#131722', lineWidth: 1.8, fill: null}}
    ]},
    {type: 'text', left: 34, top: 785, style: {text: 'TradingView', fill: TXT, fontSize: 14, fontFamily: FONT}}
  ])
};

const chart = echarts.init(document.getElementById('c'), null, {renderer: 'canvas'});
chart.setOption(option);
</script>
</body></html>
